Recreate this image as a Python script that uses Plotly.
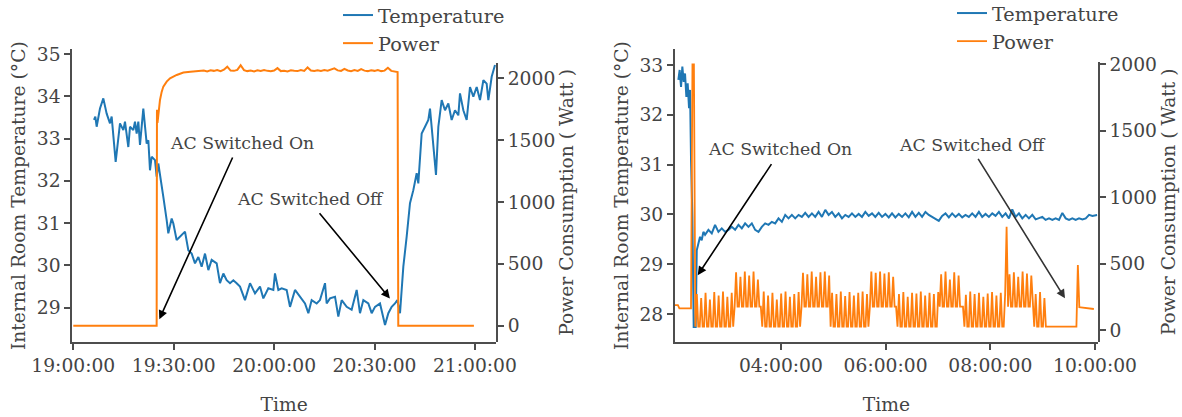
import pandas as pd
import plotly.graph_objects as go

W, H = 1182, 417
FONT = "DejaVu Serif"
TXT = "#444444"
AX = "#4d4d4d"
BLUE = "#1f77b4"
ORANGE = "#ff7f0e"

# ---------------- Left chart data (evening) ----------------
L_BASE = pd.Timestamp("2019-05-20 19:00:00")
l_temp_min = [6.18, 6.58, 6.98, 7.97, 8.97, 9.97, 10.96, 11.46, 12.66, 13.45, 13.95, 14.95,
              15.44, 16.44, 16.94, 17.93, 18.43, 18.93, 19.43, 19.93, 20.92, 21.92, 22.42,
              22.91, 23.41, 24.41, 24.91, 25.40, 25.90, 26.90, 27.90, 28.39, 29.39, 29.89,
              30.88, 31.88, 33.37, 34.37, 35.37, 36.36, 37.36, 38.35, 39.35, 40.35, 41.34,
              42.84, 43.83, 44.83, 45.82, 46.82, 47.82, 48.81, 49.81, 51.30, 52.80, 54.29,
              55.78, 56.78, 58.27, 59.77, 60.26, 61.26, 62.26, 63.75, 64.75, 66.24, 67.74,
              69.23, 70.23, 71.22, 72.72, 73.71, 75.21, 75.70, 76.70, 78.20, 79.19, 80.19,
              81.68, 83.17, 84.67, 85.66, 86.66, 88.15, 89.15, 90.15, 91.64, 93.14, 94.13,
              95.13, 96.12, 96.82, 97.62, 98.61, 99.61, 100.60, 101.60, 102.60, 103.09,
              104.09, 105.09, 106.08, 106.58, 107.58, 108.37, 109.07, 110.07, 111.06,
              112.06, 113.05, 114.05, 115.05, 115.54, 116.54, 117.54, 118.53, 119.53,
              120.53, 121.52, 122.52, 123.51, 124.01, 125.01, 126.00]
l_temp_val = [33.44, 33.52, 33.28, 33.71, 33.95, 33.59, 33.36, 33.52, 32.45, 33.12, 33.36, 33.20,
              33.40, 32.80, 33.28, 33.20, 33.40, 33.12, 33.40, 32.85, 33.71, 32.88, 32.96,
              32.25, 32.57, 32.49, 32.10, 32.41, 32.10, 31.62, 31.07, 30.76, 31.11, 30.99,
              30.60, 30.68, 30.80, 30.36, 30.28, 30.05, 30.20, 29.97, 30.28, 29.89, 30.13,
              30.05, 29.58, 29.81, 29.65, 29.58, 29.65, 29.58, 29.50, 29.18, 29.58, 29.34,
              29.50, 29.22, 29.46, 29.42, 29.81, 29.42, 29.46, 29.42, 29.02, 29.42, 29.26,
              29.10, 28.87, 29.18, 29.10, 29.18, 29.58, 29.10, 29.22, 29.26, 28.79, 29.18,
              29.02, 28.95, 29.42, 28.87, 29.18, 29.10, 28.87, 29.02, 29.10, 28.59, 28.87,
              29.02, 29.10, 29.18, 28.87, 29.97, 30.68, 31.47, 31.78, 32.18, 31.94,
              33.12, 33.28, 33.44, 33.71, 32.88, 32.14, 33.28, 33.91, 33.67,
              33.83, 33.44, 33.67, 33.55, 34.07, 33.67, 33.44, 34.22, 33.99,
              34.22, 33.91, 34.38, 34.30, 33.91, 34.46, 34.74]

l_pow_min = [0.0, 24.9, 25.0, 25.15, 25.4, 25.9, 26.4, 26.9, 27.9, 28.9, 30.9, 32.9, 35.0, 37.0,
             38, 39, 40, 41, 42, 43, 44, 45, 46, 47, 48, 49, 50, 51, 52, 53, 54, 55, 56, 57,
             58, 59, 60, 61, 62, 63, 64, 65, 66, 67, 68, 69, 70, 71, 72, 73, 74, 75, 76, 77,
             78, 79, 80, 81, 82, 83, 84, 85, 86, 87, 88, 89, 90, 91, 92, 93, 94, 95, 96,
             96.9, 97.1, 119.7]
l_pow_val = [0, 0, 1745, 1640, 1700, 1825, 1890, 1933, 1973, 2000, 2027, 2046, 2053, 2057,
             2058, 2062, 2056, 2064, 2060, 2066, 2058, 2070, 2094, 2062, 2060, 2068, 2105,
             2066, 2058, 2062, 2055, 2064, 2059, 2066, 2060, 2057, 2063, 2082, 2058, 2061,
             2056, 2064, 2060, 2058, 2066, 2060, 2088, 2063, 2059, 2065, 2060, 2066, 2062,
             2074, 2080, 2064, 2060, 2076, 2063, 2058, 2066, 2060, 2074, 2062, 2058, 2064,
             2060, 2066, 2058, 2062, 2085, 2060, 2055,
             2050, 0, 0]

# ---------------- Right chart data (overnight) ----------------
R_DAY = pd.Timestamp("2019-05-21 00:00:00")
r_temp_hr = [2.042, 2.067, 2.093, 2.118, 2.144, 2.169, 2.195, 2.220, 2.246, 2.265, 2.284, 2.310,
             2.335, 2.373, 2.393, 2.420, 2.456, 2.488, 2.520, 2.552, 2.616, 2.680, 2.743,
             2.807, 2.871, 2.935, 2.998, 3.062, 3.126, 3.190, 3.254, 3.317, 3.381, 3.445,
             3.509, 3.572, 3.636, 3.700, 3.764, 3.827, 3.891, 3.955, 4.019, 4.083, 4.146,
             4.210, 4.274, 4.338, 4.401, 4.465, 4.529, 4.593, 4.656, 4.720, 4.784, 4.848,
             4.912, 4.975, 5.039, 5.103, 5.167, 5.230, 5.294, 5.358, 5.422, 5.486, 5.549,
             5.613, 5.677, 5.741, 5.804, 5.868, 5.932, 5.996, 6.060, 6.123, 6.187, 6.251,
             6.315, 6.378, 6.442, 6.506, 6.570, 6.634, 6.697, 6.761, 6.825, 6.920, 7.016,
             7.080, 7.144, 7.208, 7.271, 7.335, 7.399, 7.463, 7.526, 7.590, 7.654, 7.718,
             7.782, 7.845, 7.909, 7.973, 8.037, 8.100, 8.164, 8.228, 8.292, 8.356, 8.419,
             8.483, 8.547, 8.611, 8.675, 8.738, 8.802, 8.866, 8.930, 8.993, 9.057, 9.121,
             9.185, 9.248, 9.312, 9.376, 9.440, 9.504, 9.567, 9.631, 9.695, 9.759, 9.823,
             9.886, 9.950, 10.040]
r_temp_val = [32.70, 32.90, 32.56, 32.97, 32.66, 32.83, 32.36, 32.63, 32.13, 32.50, 31.10, 29.95,
              27.74, 27.74, 29.28, 29.42, 29.55, 29.48, 29.65, 29.59, 29.69, 29.62, 29.79,
              29.65, 29.72, 29.65, 29.69, 29.75, 29.69, 29.79, 29.72, 29.82, 29.75, 29.82,
              29.69, 29.65, 29.75, 29.82, 29.79, 29.85, 29.82, 29.92, 29.85, 29.99, 29.92,
              29.99, 29.92, 29.99, 29.95, 30.03, 29.95, 30.02, 29.95, 30.05, 29.95, 30.09,
              29.99, 30.05, 29.95, 30.02, 29.92, 29.99, 29.95, 30.02, 29.95, 30.01, 29.95,
              30.05, 29.97, 30.02, 29.95, 30.03, 29.95, 30.01, 29.94, 30.02, 29.94, 30.01,
              29.95, 30.02, 29.94, 30.05, 29.95, 30.03, 29.95, 30.05, 29.99, 29.93, 29.87,
              29.97, 30.02, 29.94, 30.02, 29.95, 30.01, 29.94, 29.99, 29.95, 30.02, 29.95,
              30.05, 29.95, 30.01, 29.95, 30.02, 29.97, 30.05, 29.95, 30.02, 29.92, 30.10,
              29.95, 30.02, 29.92, 29.99, 29.92, 29.99, 29.90, 29.92, 29.95, 29.89, 29.92,
              29.89, 29.92, 29.89, 30.03, 29.92, 29.89, 29.92, 29.89, 29.92, 29.90, 29.92,
              29.99, 29.97, 29.99]

R_POW_START = "2019-05-21 01:58:40"
R_POW_STEP = "100s"
r_pow_val = [
    # standby before switching on
    188, 188, 188, 163, 163, 163, 163, 163, 163, 163, 163, 163,
    # start-up surge
    2000, 2000, 25,
    # compressor cycling, low block 1
    270, 25, 25, 240, 25, 25, 280, 25, 25, 230, 25, 25, 285, 25, 25, 260, 25, 25,
    290, 25, 25, 250, 25, 25, 280, 25,
    # high block 1
    176, 435, 176, 176, 400, 176, 176, 440, 176, 176, 410, 176, 176, 440, 176, 176,
    380, 176, 176,
    # low block 2
    25, 290, 25, 25, 260, 25, 25, 280, 25, 25, 230, 25, 25, 275, 25, 25, 290, 25, 25,
    250, 25, 25, 270, 25, 25, 285, 25,
    # high block 2
    176, 430, 176, 176, 420, 176, 176, 440, 176, 176, 400, 176, 176, 435, 176, 176,
    440, 176, 176, 410,
    # low block 3
    25, 280, 25, 25, 270, 25, 25, 290, 25, 25, 255, 25, 25, 285, 25, 25, 260, 25, 25,
    280, 25, 25, 290, 25, 25, 270, 25,
    # high block 3
    176, 440, 176, 176, 430, 176, 176, 440, 176, 176, 425, 176, 176, 435, 176, 176,
    400, 176, 176,
    # low block 4
    25, 270, 25, 25, 285, 25, 25, 250, 25, 25, 280, 25, 25, 275, 25, 25, 290, 25, 25,
    260, 25, 25, 280, 25, 25, 270, 25, 25, 285,
    # high block 4
    176, 420, 176, 176, 440, 176, 176, 380, 176, 176, 435, 176, 176, 410, 176, 176, 176,
    # low block 5
    25, 265, 25, 25, 290, 25, 25, 270, 25, 25, 280, 25, 25, 250, 25, 25, 275, 25, 25,
    285, 25, 25, 260, 25, 25, 280, 25, 25, 270,
    # high block 5 (with spike)
    778, 176, 420, 176, 176, 435, 176, 176, 400, 176, 176, 440, 176, 176, 425, 176, 176,
    410, 176,
    # last few cycles
    25, 270, 25, 25, 285, 25, 25, 240, 25,
    # switched off
    25, 25, 25, 25, 25, 25, 25, 25, 25, 25, 25, 25, 25, 25, 25, 25, 25, 25, 25, 25, 25,
    489,
    172, 171, 170, 169, 168, 166, 164, 162, 160, 159, 158,
]

# tick labels / ranges
l_x_range = ["2019-05-20 18:59:42", "2019-05-20 21:06:18"]
l_x_ticks = ["2019-05-20 19:00:00", "2019-05-20 19:30:00", "2019-05-20 20:00:00",
             "2019-05-20 20:30:00", "2019-05-20 21:00:00"]
l_t_range = [28.189, 35.111]
l_p_range = [-131.8, 2126]
r_x_range = ["2019-05-21 01:58:40", "2019-05-21 10:03:04"]
r_x_ticks = ["2019-05-21 04:00:00", "2019-05-21 06:00:00", "2019-05-21 08:00:00",
             "2019-05-21 10:00:00"]
r_t_range = [27.438, 33.321]
r_p_range = [-90.3, 2019.6]

l_temp_t = [L_BASE + pd.Timedelta(minutes=m) for m in l_temp_min]
l_pow_t = [L_BASE + pd.Timedelta(minutes=m) for m in l_pow_min]
r_temp_t = [R_DAY + pd.Timedelta(hours=h) for h in r_temp_hr]
r_pow_t = pd.date_range(R_POW_START, periods=len(r_pow_val), freq=R_POW_STEP)


def px(v):
    return v / W


def py(v):
    return 1 - v / H


fig = go.Figure()
fig.add_trace(go.Scatter(x=l_temp_t, y=l_temp_val, mode="lines", name="Temperature",
                         line=dict(color=BLUE, width=2), xaxis="x", yaxis="y", legend="legend"))
fig.add_trace(go.Scatter(x=l_pow_t, y=l_pow_val, mode="lines", name="Power",
                         line=dict(color=ORANGE, width=2), xaxis="x", yaxis="y2", legend="legend"))
fig.add_trace(go.Scatter(x=r_temp_t, y=r_temp_val, mode="lines", name="Temperature",
                         line=dict(color=BLUE, width=2), xaxis="x2", yaxis="y3", legend="legend2"))
fig.add_trace(go.Scatter(x=r_pow_t, y=r_pow_val, mode="lines", name="Power",
                         line=dict(color=ORANGE, width=1.8), xaxis="x2", yaxis="y4",
                         legend="legend2"))

tickfont = dict(family=FONT, size=18.7, color=TXT)
titlefont = dict(family=FONT, size=18.7, color=TXT)
common = dict(showgrid=False, zeroline=False, showline=True, linecolor=AX, linewidth=2,
              ticks="outside", ticklen=6, tickwidth=2, tickcolor=AX, tickfont=tickfont,
              automargin=False)

bottom = py(342)
fig.update_layout(
    width=W, height=H, margin=dict(l=0, r=0, t=0, b=0, autoexpand=False),
    paper_bgcolor="white", plot_bgcolor="rgba(0,0,0,0)",
    xaxis=dict(domain=[px(72.3), px(496)], anchor="y", type="date", range=l_x_range,
               tickvals=l_x_ticks, tickformat="%H:%M:%S",
               title=dict(text="Time", font=titlefont, standoff=22), **common),
    yaxis=dict(domain=[bottom, py(49.3)], anchor="x", range=l_t_range, tickvals=[29, 30, 31, 32, 33, 34, 35],
               title=dict(text="Internal Room Temperature (°C)", font=titlefont, standoff=6), **common),
    yaxis2=dict(domain=[bottom, py(62.7)], anchor="x", side="right", range=l_p_range,
                tickvals=[0, 500, 1000, 1500, 2000],
                title=dict(text="Power Consumption ( Watt )", font=titlefont, standoff=6), **common),
    xaxis2=dict(domain=[px(675), px(1097.7)], anchor="y3", type="date", range=r_x_range,
                tickvals=r_x_ticks, tickformat="%H:%M:%S",
                title=dict(text="Time", font=titlefont, standoff=22), **common),
    yaxis3=dict(domain=[bottom, py(49)], anchor="x2", range=r_t_range, tickvals=[28, 29, 30, 31, 32, 33],
                title=dict(text="Internal Room Temperature (°C)", font=titlefont, standoff=6), **common),
    yaxis4=dict(domain=[bottom, py(61.7)], anchor="x2", side="right", range=r_p_range,
                tickvals=[0, 500, 1000, 1500, 2000],
                title=dict(text="Power Consumption ( Watt )", font=titlefont, standoff=6), **common),
    legend=dict(x=px(338), y=1 + 4 / H, xanchor="left", yanchor="top", bgcolor="rgba(0,0,0,0)",
                font=dict(family=FONT, size=19.3, color=TXT), itemwidth=30, traceorder="normal"),
    legend2=dict(x=px(952), y=1 + 6 / H, xanchor="left", yanchor="top", bgcolor="rgba(0,0,0,0)",
                 font=dict(family=FONT, size=19.3, color=TXT), itemwidth=30, traceorder="normal"),
    showlegend=True,
)

afont = dict(family=FONT, size=17.3, color=TXT)
texts = [
    ("AC Switched On", 241.6, 143.3),
    ("AC Switched Off", 310.5, 199.0),
    ("AC Switched On", 779.7, 149.3),
    ("AC Switched Off", 972.0, 145.0),
]
for t, xx, yy in texts:
    fig.add_annotation(text=t, x=px(xx), y=py(yy), xref="paper", yref="paper",
                       showarrow=False, font=afont, xanchor="center", yanchor="middle")

arrows = [
    # head (x, y), tail (ax, ay), xref, yref, color
    ("2019-05-20 19:25:42", 52, "2019-05-20 19:47:48", 1372, "x", "y2", "black"),
    ("2019-05-20 20:34:36", 29.22, "2019-05-20 20:13:12", 31.27, "x", "y", "black"),
    ("2019-05-21 02:24:43", 28.78, "2019-05-21 03:50:20", 31.04, "x2", "y3", "black"),
    ("2019-05-21 09:25:34", 238.6, "2019-05-21 07:45:00", 1300, "x2", "y4", "#333333"),
]
for hx, hy, tx, ty, xr, yr, col in arrows:
    fig.add_annotation(text="", x=hx, y=hy, ax=tx, ay=ty, xref=xr, yref=yr, axref=xr, ayref=yr,
                       showarrow=True, arrowhead=2, arrowsize=1.1, arrowwidth=1.6, arrowcolor=col)

fig.write_html("out.html")
